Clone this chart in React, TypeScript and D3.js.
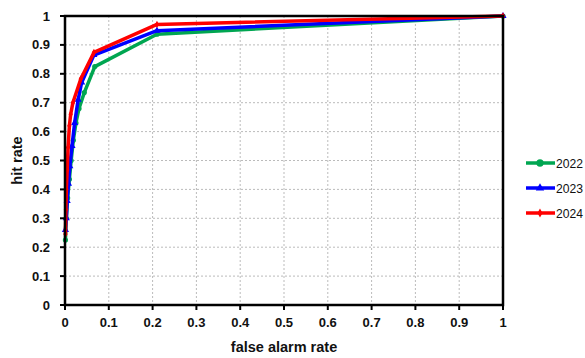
import React from "react";
import * as d3 from "d3";

const seriesNames = ["2022", "2023", "2024"];
const seriesColors = ["#00a651", "#0000ff", "#ff0000"];
const far2022 = [0.001, 0.003, 0.006, 0.010, 0.014, 0.019, 0.025, 0.032, 0.044, 0.068, 0.21, 1];
const hit2022 = [0.225, 0.30, 0.37, 0.435, 0.50, 0.57, 0.63, 0.68, 0.735, 0.825, 0.937, 1];
const far2023 = [0.001, 0.003, 0.005, 0.008, 0.011, 0.016, 0.022, 0.030, 0.038, 0.066, 0.21, 1];
const hit2023 = [0.26, 0.30, 0.36, 0.42, 0.48, 0.55, 0.63, 0.71, 0.77, 0.865, 0.949, 1];
const far2024 = [0.001, 0.002, 0.003, 0.005, 0.007, 0.010, 0.013, 0.018, 0.036, 0.066, 0.21, 1];
const hit2024 = [0.245, 0.33, 0.40, 0.467, 0.545, 0.62, 0.66, 0.70, 0.782, 0.874, 0.971, 1];
const ticks = [0, 0.1, 0.2, 0.3, 0.4, 0.5, 0.6, 0.7, 0.8, 0.9, 1];

const allX = [far2022, far2023, far2024];
const allY = [hit2022, hit2023, hit2024];

export default function App() {
  const W = 585, H = 358;
  const x = d3.scaleLinear().domain([0, 1]).range([65, 503]);
  const y = d3.scaleLinear().domain([0, 1]).range([305, 16]);
  const line = d3.line<[number, number]>().x(d => x(d[0])).y(d => y(d[1]));
  const font = "'Liberation Sans', Arial, sans-serif";

  const marker = (i: number, cx: number, cy: number, s = 1) => {
    const c = seriesColors[i];
    if (i === 0) return <circle cx={cx} cy={cy} r={2.6 * s} fill={c} />;
    if (i === 1) {
      const sym = d3.symbol().type(d3.symbolTriangle).size(22 * s)();
      return <path d={sym || ""} transform={`translate(${cx},${cy})`} fill={c} />;
    }
    const sym = d3.symbol().type(d3.symbolDiamond).size(16 * s)();
    return <path d={sym || ""} transform={`translate(${cx},${cy})`} fill={c} />;
  };

  return (
    <svg width={W} height={H} style={{ position: "absolute", left: 0, top: 0, background: "#fff" }}>
      {ticks.slice(1, -1).map(t => (
        <line key={"gx" + t} x1={x(t)} x2={x(t)} y1={y(1)} y2={y(0)} stroke="#bbb" strokeWidth={1} strokeDasharray="2,2" />
      ))}
      {ticks.slice(1, -1).map(t => (
        <line key={"gy" + t} x1={x(0)} x2={x(1)} y1={y(t)} y2={y(t)} stroke="#bbb" strokeWidth={1} strokeDasharray="2,2" />
      ))}
      {allX.map((xs, i) => {
        const pts: [number, number][] = xs.map((v, k) => [v, allY[i][k]]);
        return (
          <g key={"s" + i}>
            <path d={line(pts) || ""} fill="none" stroke={seriesColors[i]} strokeWidth={3.5} strokeLinejoin="round" />
            {pts.map((p, k) => <g key={k}>{marker(i, x(p[0]), y(p[1]))}</g>)}
          </g>
        );
      })}
      <rect x={x(0)} y={y(1)} width={x(1) - x(0)} height={y(0) - y(1)} fill="none" stroke="#000" strokeWidth={2.5} />
      {ticks.map(t => (
        <g key={"tx" + t}>
          <line x1={x(t)} x2={x(t)} y1={y(0)} y2={y(0) + 5} stroke="#000" strokeWidth={2} />
          <text x={x(t)} y={327} textAnchor="middle" fontFamily={font} fontWeight="bold" fontSize={13} fill="#111">{t}</text>
        </g>
      ))}
      {ticks.map(t => (
        <g key={"ty" + t}>
          <line x1={x(0) - 5} x2={x(0)} y1={y(t)} y2={y(t)} stroke="#000" strokeWidth={2} />
          <text x={50} y={y(t) + 4.5} textAnchor="end" fontFamily={font} fontWeight="bold" fontSize={13} fill="#111">{t}</text>
        </g>
      ))}
      <text x={x(0.5)} y={352} textAnchor="middle" fontFamily={font} fontWeight="bold" fontSize={14.5} fill="#111">false alarm rate</text>
      <text transform={`translate(22,${y(0.5)}) rotate(-90)`} textAnchor="middle" fontFamily={font} fontWeight="bold" fontSize={14.5} fill="#111">hit rate</text>
      {seriesNames.map((n, i) => {
        const ly = 163 + i * 25;
        return (
          <g key={"l" + n}>
            <line x1={526} x2={555} y1={ly} y2={ly} stroke={seriesColors[i]} strokeWidth={3.5} />
            {marker(i, 540, ly, 1.4)}
            <text x={556} y={ly + 4.5} fontFamily={font} fontSize={12.5} textLength={27} lengthAdjust="spacingAndGlyphs" fill="#111">{n}</text>
          </g>
        );
      })}
    </svg>
  );
}
